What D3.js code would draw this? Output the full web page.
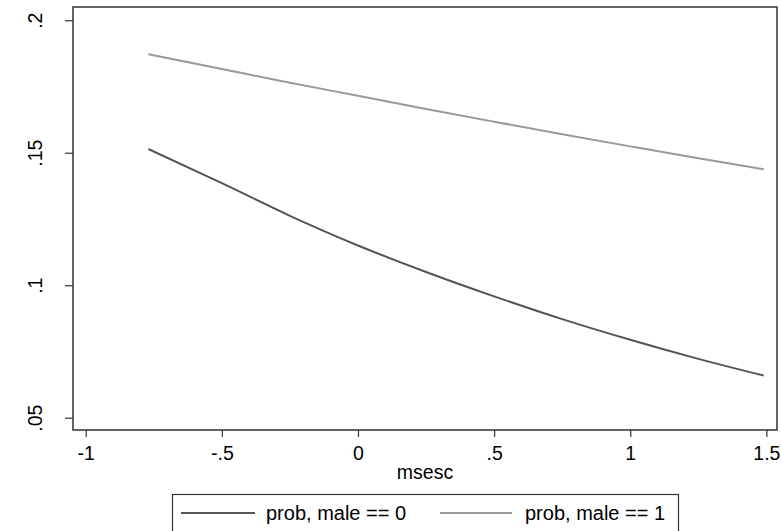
<!DOCTYPE html>
<html>
<head>
<meta charset="utf-8">
<script src="https://cdn.jsdelivr.net/npm/d3@7"></script>
<style>
html,body{margin:0;padding:0;background:#fff;}
svg{display:block;font-family:"Liberation Sans",Arial,sans-serif;}
</style>
</head>
<body>
<svg id="chart" width="781" height="531"></svg>
<script>
// Data
const msesc = [-0.77, -0.5, -0.25, 0, 0.25, 0.5, 0.75, 1.0, 1.25, 1.49];
const probMale0 = [0.1514, 0.1385, 0.1262, 0.1150, 0.1050, 0.0958, 0.0872, 0.0794, 0.0722, 0.0659];
const probMale1 = [0.1872, 0.1816, 0.1764, 0.1715, 0.1665, 0.1617, 0.1570, 0.1524, 0.1479, 0.1438];
const xTicks = [-1, -0.5, 0, 0.5, 1, 1.5];
const xTickLabels = ["-1", "-.5", "0", ".5", "1", "1.5"];
const yTicks = [0.05, 0.1, 0.15, 0.2];
const yTickLabels = [".05", ".1", ".15", ".2"];
const seriesNames = ["prob, male == 0", "prob, male == 1"];
const seriesColors = ["#555555", "#999999"];

const svg = d3.select("#chart");
const plot = {left: 73, top: 7, right: 777, bottom: 430};
const fs = "19.5px";

const x = d3.scaleLinear().domain([-1.0467, 1.539]).range([plot.left, plot.right]);
const y = d3.scaleLinear().domain([0.04536, 0.2050]).range([plot.bottom, plot.top]);

// plot frame
svg.append("rect")
  .attr("x", plot.left).attr("y", plot.top)
  .attr("width", plot.right - plot.left).attr("height", plot.bottom - plot.top)
  .attr("fill", "none").attr("stroke", "#333").attr("stroke-width", 1.5);

// x axis
const xAxis = d3.axisBottom(x).tickValues(xTicks)
  .tickFormat((d, i) => xTickLabels[i]).tickSize(7).tickSizeOuter(0);
const gx = svg.append("g").attr("transform", `translate(0,${plot.bottom})`).call(xAxis);
gx.select(".domain").remove();
gx.selectAll(".tick line").attr("stroke", "#333").attr("stroke-width", 1.2);
gx.selectAll(".tick text").attr("font-size", fs).attr("fill", "#000")
  .attr("dy", null).attr("y", 30);

// y axis
const yAxis = d3.axisLeft(y).tickValues(yTicks)
  .tickFormat((d, i) => yTickLabels[i]).tickSize(8).tickSizeOuter(0);
const gy = svg.append("g").attr("transform", `translate(${plot.left},0)`).call(yAxis);
gy.select(".domain").remove();
gy.selectAll(".tick line").attr("stroke", "#333").attr("stroke-width", 1.2);
gy.selectAll(".tick text")
  .attr("font-size", fs).attr("fill", "#000")
  .attr("x", null).attr("dy", null)
  .attr("text-anchor", "middle")
  .attr("transform", "translate(-31,0) rotate(-90)");

// axis title
svg.append("text").attr("x", (plot.left + plot.right) / 2).attr("y", 479)
  .attr("text-anchor", "middle").attr("font-size", fs).attr("fill", "#000")
  .text("msesc");

// lines
const line = d3.line().x(d => x(d[0])).y(d => y(d[1])).curve(d3.curveMonotoneX);
[probMale0, probMale1].forEach((vals, i) => {
  svg.append("path")
    .datum(msesc.map((m, j) => [m, vals[j]]))
    .attr("fill", "none").attr("stroke", seriesColors[i]).attr("stroke-width", 2)
    .attr("d", line);
});

// legend
const lg = svg.append("g");
lg.append("rect").attr("x", 172.5).attr("y", 494.5).attr("width", 506).attr("height", 40)
  .attr("fill", "#fff").attr("stroke", "#333").attr("stroke-width", 1.2);
const legendItems = [
  {x1: 181, x2: 255, tx: 266},
  {x1: 440, x2: 512, tx: 525}
];
legendItems.forEach((it, i) => {
  lg.append("line").attr("x1", it.x1).attr("x2", it.x2).attr("y1", 513).attr("y2", 513)
    .attr("stroke", seriesColors[i]).attr("stroke-width", 2);
  lg.append("text").attr("x", it.tx).attr("y", 520).attr("font-size", "20px")
    .attr("fill", "#000").text(seriesNames[i]);
});
</script>
</body>
</html>
